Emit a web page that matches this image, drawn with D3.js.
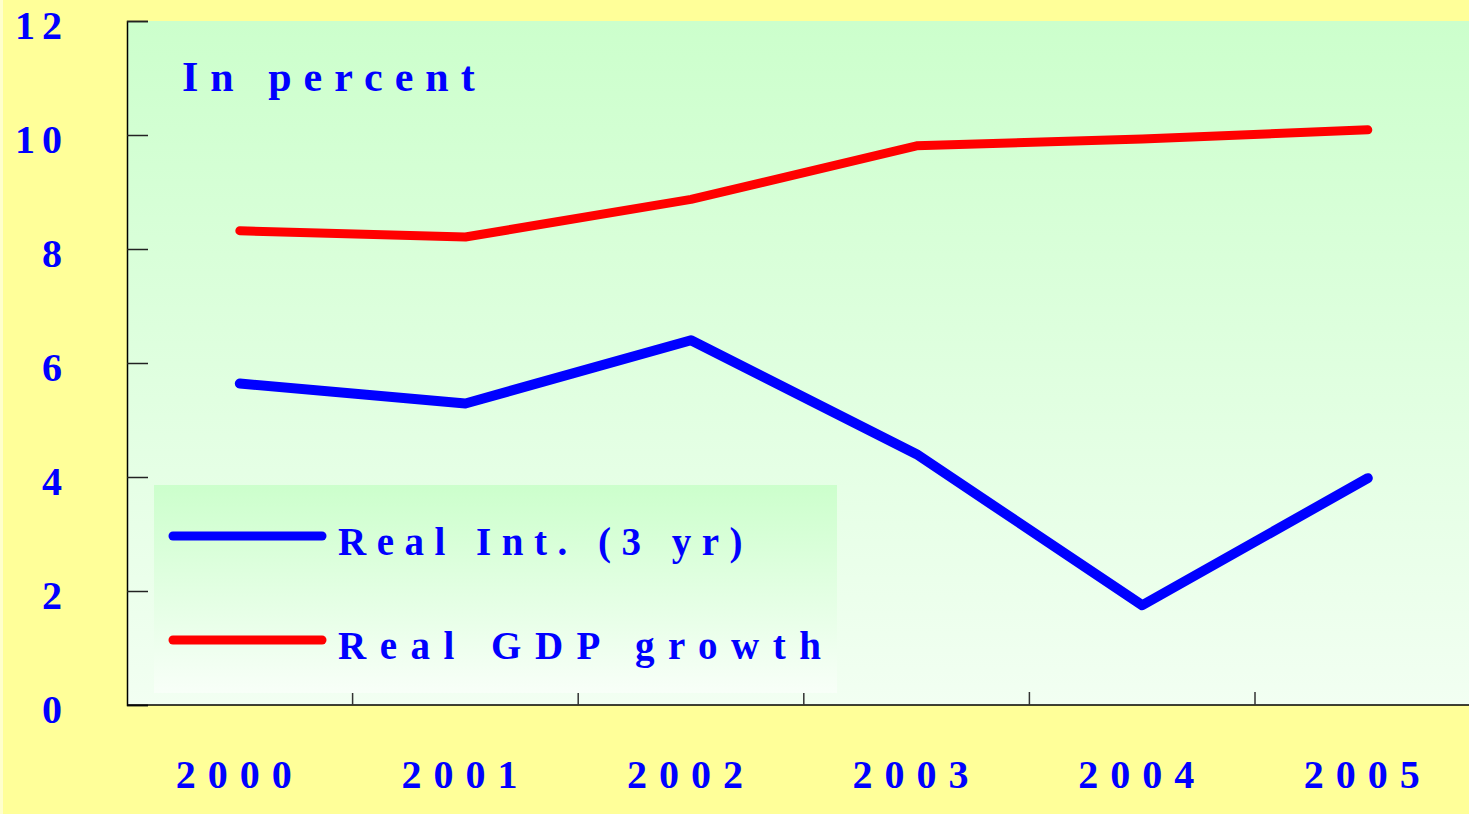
<!DOCTYPE html>
<html>
<head>
<meta charset="utf-8">
<script src="https://cdn.jsdelivr.net/npm/d3@7"></script>
<style>
	html, body { margin: 0; padding: 0; background: #FFFF99; overflow: hidden; }
	svg { display: block; }
	text { font-family: "Liberation Serif", "Times New Roman", serif; font-weight: bold; fill: #0000FF; }
</style>
</head>
<body>
<svg id="chart" width="1469" height="814"></svg>
<script>
// chart data
let years = ['2000', '2001', '2002', '2003', '2004', '2005'];
let realInt = [5.64, 5.29, 6.40, 4.40, 1.75, 3.98];
let realGdp = [8.32, 8.21, 8.87, 9.81, 9.93, 10.09];
let yTicks = [0, 2, 4, 6, 8, 10, 12];
let seriesNames = ['Real Int. (3 yr)', 'Real GDP growth'];
let seriesColors = ['#0000FF', '#FF0000'];
let legendSpacing = [10.5, 13.5];

let W = 1469, H = 814;
var margin = { top: 21, left: 127, bottom: 705 };
let bandW = 225.6;

let svg = d3.select('svg#chart');
let defs = svg.append('defs');

let grad = defs.append('linearGradient').attr('id', 'plotBg')
	.attr('x1', 0).attr('x2', 0).attr('y1', 0).attr('y2', 1);
grad.append('stop').attr('offset', '0%').attr('stop-color', '#CCFFCC');
grad.append('stop').attr('offset', '100%').attr('stop-color', '#F2FFF2');

let grad2 = defs.append('linearGradient').attr('id', 'legendBg')
	.attr('x1', 0).attr('x2', 0).attr('y1', 0).attr('y2', 1);
grad2.append('stop').attr('offset', '0%').attr('stop-color', '#CCFFCC');
grad2.append('stop').attr('offset', '100%').attr('stop-color', '#F8FFF8');

// background
svg.append('rect').attr('width', W).attr('height', H).attr('fill', '#FFFF99');
svg.append('rect').attr('x', 0).attr('y', 0).attr('width', 3).attr('height', H).attr('fill', '#FFFFCC');

let x = d3.scaleBand().domain(years).range([margin.left, margin.left + bandW * years.length]);
let y = d3.scaleLinear().domain([0, 12]).range([margin.bottom, margin.top]);
let cx = d => x(d) + x.bandwidth() / 2;

// plot area
svg.append('rect')
	.attr('x', margin.left).attr('y', y(12))
	.attr('width', W - margin.left).attr('height', y(0) - y(12))
	.attr('fill', 'url(#plotBg)');

// y axis (ticks point inward)
let yAxis = svg.append('g')
	.attr('transform', 'translate(' + margin.left + ',0)')
	.call(d3.axisLeft(y).tickValues(yTicks).tickSize(-21).tickFormat(''));
yAxis.select('.domain').attr('stroke', '#000').attr('stroke-width', 1.5);
yAxis.selectAll('.tick line').attr('stroke', '#222').attr('stroke-width', 1.5);

svg.append('g').selectAll('text.ylab')
	.data(yTicks)
	.join('text')
	.attr('class', 'ylab')
	.attr('x', 69)
	.attr('y', d => y(d) + 18)
	.attr('text-anchor', 'end')
	.style('font-size', '40px')
	.style('letter-spacing', '7px')
	.text(d => d);

// x axis
svg.append('line')
	.attr('x1', margin.left).attr('x2', W)
	.attr('y1', y(0)).attr('y2', y(0))
	.attr('stroke', '#000').attr('stroke-width', 1.5);
svg.append('g').selectAll('line.xtick')
	.data(years.slice(1))
	.join('line')
	.attr('class', 'xtick')
	.attr('x1', d => x(d)).attr('x2', d => x(d))
	.attr('y1', y(0)).attr('y2', y(0) - 13)
	.attr('stroke', '#333').attr('stroke-width', 1.5);

svg.append('g').selectAll('text.xlab')
	.data(years)
	.join('text')
	.attr('class', 'xlab')
	.attr('x', d => cx(d))
	.attr('y', 788)
	.attr('text-anchor', 'middle')
	.style('font-size', '40px')
	.style('letter-spacing', '12px')
	.text(d => d);

// legend box
let lg = svg.append('g');
lg.append('rect')
	.attr('x', 154).attr('y', 485).attr('width', 683).attr('height', 208)
	.attr('fill', 'url(#legendBg)');
lg.selectAll('line.key')
	.data(seriesNames)
	.join('line')
	.attr('class', 'key')
	.attr('x1', 173).attr('x2', 322)
	.attr('y1', (d, i) => 536 + i * 104).attr('y2', (d, i) => 536 + i * 104)
	.attr('stroke', (d, i) => seriesColors[i])
	.attr('stroke-width', 9)
	.attr('stroke-linecap', 'round');
lg.selectAll('text.key')
	.data(seriesNames)
	.join('text')
	.attr('class', 'key')
	.attr('x', 338)
	.attr('y', (d, i) => 555 + i * 104)
	.style('font-size', '39px')
	.style('letter-spacing', (d, i) => legendSpacing[i] + 'px')
	.style('white-space', 'pre')
	.text(d => d);

// lines
let line = d3.line()
	.x((d, i) => cx(years[i]))
	.y(d => y(d));

svg.append('g').selectAll('path.series')
	.data([realInt, realGdp])
	.join('path')
	.attr('class', 'series')
	.attr('d', line)
	.attr('fill', 'none')
	.attr('stroke', (d, i) => seriesColors[i])
	.attr('stroke-width', (d, i) => i == 0 ? 10 : 9)
	.attr('stroke-linecap', 'round')
	.attr('stroke-linejoin', 'round');

// caption
svg.append('text')
	.attr('x', 182).attr('y', 91)
	.style('font-size', '42px')
	.style('letter-spacing', '12px')
	.style('white-space', 'pre')
	.text('In percent');
</script>
</body>
</html>
